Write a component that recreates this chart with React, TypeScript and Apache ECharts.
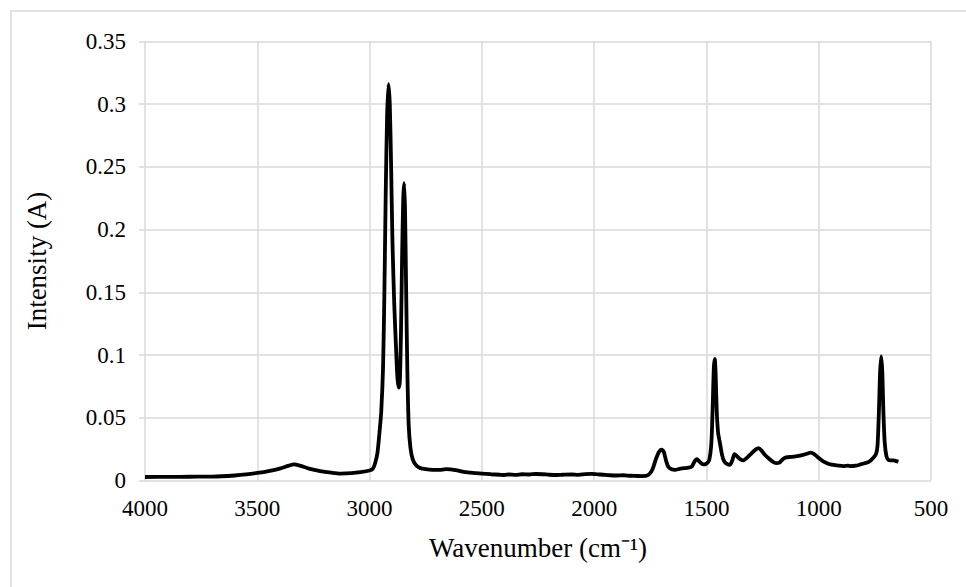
import React, { useEffect, useRef } from "react";
import * as echarts from "echarts";

// FTIR spectrum: wavenumber (cm⁻¹) vs absorbance
const wavenumbers: number[] = [
  4000, 3900, 3800, 3700, 3600, 3550, 3500, 3450, 3400, 3360, 3336, 3310, 3270, 3220, 3170, 3130,
  3080, 3040, 3000, 2985, 2975, 2965, 2955, 2948, 2940, 2934, 2928, 2922, 2916, 2910, 2904, 2898,
  2890, 2882, 2876, 2870, 2865, 2860, 2855, 2850, 2846, 2842, 2837, 2832, 2826, 2818, 2808, 2795,
  2775, 2750, 2720, 2690, 2660, 2640, 2610, 2580, 2540, 2500, 2460, 2420, 2400, 2380, 2350, 2320,
  2290, 2260, 2230, 2200, 2170, 2140, 2100, 2070, 2040, 2010, 1990, 1960, 1930, 1900, 1870, 1840,
  1810, 1790, 1770, 1755, 1740, 1725, 1712, 1700, 1690, 1680, 1670, 1655, 1640, 1620, 1600, 1580,
  1565, 1552, 1543, 1530, 1515, 1500, 1488, 1478, 1472, 1467, 1463, 1459, 1454, 1448, 1440, 1430,
  1420, 1405, 1395, 1385, 1375, 1365, 1350, 1335, 1320, 1300, 1280, 1267, 1255, 1240, 1222, 1205,
  1190, 1175, 1160, 1145, 1120, 1096, 1070, 1050, 1037, 1020, 1000, 978, 955, 933, 910, 890,
  870, 858, 835, 814, 795, 775, 760, 745, 738, 732, 727, 722, 717, 712, 706, 698,
  690, 680, 665, 655, 645,
];

const intensity: number[] = [
  0.0028, 0.0029, 0.003, 0.0031, 0.004, 0.0048, 0.006, 0.0075, 0.0095, 0.0118, 0.0128, 0.0118, 0.0095, 0.0075, 0.0062, 0.0055,
  0.0058, 0.0066, 0.008, 0.0095, 0.014, 0.022, 0.04, 0.055, 0.09, 0.15, 0.23, 0.29, 0.316, 0.3, 0.25, 0.19,
  0.14, 0.105, 0.082, 0.074, 0.08, 0.12, 0.18, 0.225, 0.237, 0.215, 0.15, 0.09, 0.045, 0.026, 0.017, 0.0125,
  0.01, 0.009, 0.0085, 0.0085, 0.009, 0.0088, 0.008, 0.0068, 0.006, 0.0055, 0.005, 0.0046, 0.0044, 0.0048, 0.0045, 0.005,
  0.0048, 0.0052, 0.005, 0.0046, 0.0044, 0.0046, 0.0048, 0.0045, 0.005, 0.0053, 0.005, 0.0046, 0.0042, 0.004, 0.0042, 0.0038,
  0.0036, 0.0035, 0.0036, 0.005, 0.009, 0.017, 0.0225, 0.0245, 0.023, 0.016, 0.011, 0.009, 0.0085, 0.0092, 0.0098, 0.0102,
  0.0112, 0.0155, 0.017, 0.015, 0.0128, 0.0135, 0.016, 0.03, 0.06, 0.09, 0.097, 0.085, 0.055, 0.038, 0.03, 0.02,
  0.015, 0.0128, 0.0125, 0.016, 0.021, 0.0195, 0.017, 0.016, 0.018, 0.0215, 0.0248, 0.0258, 0.024, 0.0205, 0.0175, 0.015,
  0.0138, 0.0142, 0.017, 0.0185, 0.0188, 0.0195, 0.0205, 0.0215, 0.0222, 0.021, 0.018, 0.015, 0.0132, 0.0124, 0.0118, 0.0115,
  0.0118, 0.0114, 0.0118, 0.0128, 0.0138, 0.015, 0.0175, 0.021, 0.028, 0.055, 0.085, 0.099, 0.087, 0.055, 0.03, 0.019,
  0.0165, 0.016, 0.016, 0.0155, 0.015,
];

const xTitle = "Wavenumber (cm⁻¹)";
const yTitle = "Intensity (A)";

const FONT = "'Liberation Serif', 'Times New Roman', serif";
const GRID_COLOR = "#d9d9d9";

export default function App() {
  const ref = useRef<HTMLDivElement>(null);

  useEffect(() => {
    if (!ref.current) return;
    const chart = echarts.init(ref.current, undefined, { renderer: "svg" });
    const points = wavenumbers.map((w, i) => [w, intensity[i]]);

    chart.setOption({
      animation: false,
      backgroundColor: "#ffffff",
      textStyle: { fontFamily: FONT, color: "#000" },
      graphic: [
        {
          type: "rect",
          shape: { x: 11, y: 11, width: 1000, height: 640 },
          style: { fill: "none", stroke: GRID_COLOR, lineWidth: 1.5 },
          silent: true,
        },
      ],
      grid: { left: 145, right: 35, top: 41.5, bottom: 106.5, containLabel: false },
      xAxis: {
        type: "value",
        min: 500,
        max: 4000,
        interval: 500,
        inverse: true,
        name: xTitle,
        nameLocation: "middle",
        nameGap: 54,
        nameTextStyle: { fontFamily: FONT, fontSize: 27, color: "#000" },
        axisLine: { show: false },
        axisTick: { show: false },
        axisLabel: {
          fontFamily: FONT,
          fontSize: 23,
          color: "#000",
          margin: 16,
          formatter: (v: number) => String(v),
        },
        splitLine: { show: true, lineStyle: { color: GRID_COLOR, width: 1.5 } },
      },
      yAxis: {
        type: "value",
        min: 0,
        max: 0.35,
        interval: 0.05,
        name: yTitle,
        nameLocation: "middle",
        nameGap: 95,
        nameTextStyle: { fontFamily: FONT, fontSize: 27, color: "#000" },
        axisLine: { show: false },
        axisTick: { show: true, inside: false, length: 6, lineStyle: { color: GRID_COLOR, width: 1.5 } },
        axisLabel: {
          fontFamily: FONT,
          fontSize: 23,
          color: "#000",
          margin: 19,
          formatter: (v: number) => String(parseFloat(v.toFixed(2))),
        },
        splitLine: { show: true, lineStyle: { color: GRID_COLOR, width: 1.5 } },
      },
      series: [
        {
          type: "line",
          data: points,
          showSymbol: false,
          smooth: 0.25,
          lineStyle: { color: "#000", width: 3.8 },
          itemStyle: { color: "#000" },
        },
      ],
    });

    return () => chart.dispose();
  }, []);

  return (
    <div
      ref={ref}
      style={{ position: "fixed", left: 0, top: 0, width: 966, height: 587, background: "#fff" }}
    />
  );
}
